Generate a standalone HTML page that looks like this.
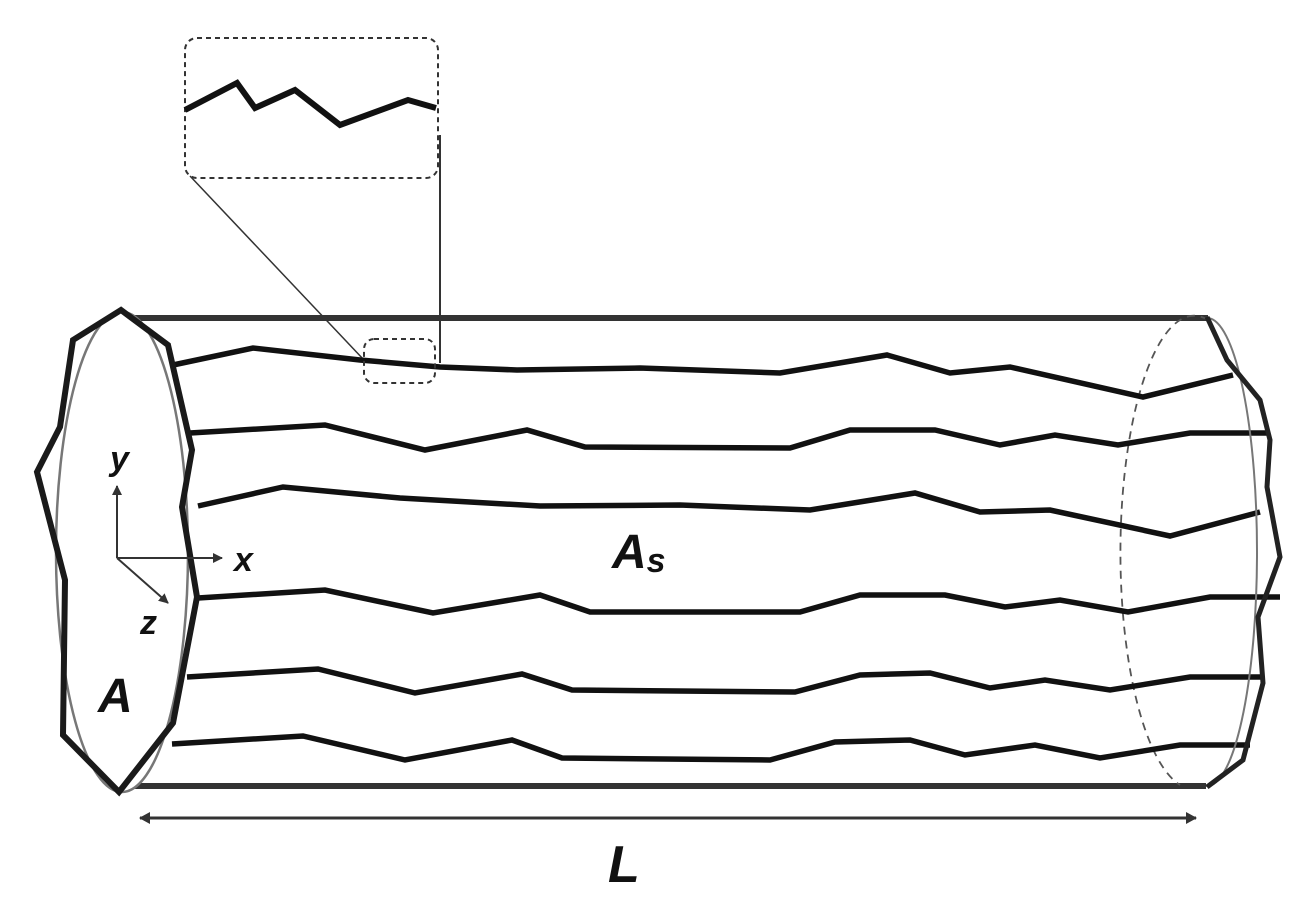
<!DOCTYPE html>
<html><head><meta charset="utf-8"><style>
html,body{margin:0;padding:0;background:#fff;}
svg{display:block;}
text{font-family:"Liberation Sans",sans-serif;font-weight:bold;font-style:italic;fill:#111;}
</style></head><body>
<svg width="1296" height="904" viewBox="0 0 1296 904" xmlns="http://www.w3.org/2000/svg">
<defs>
<marker id="ah" markerWidth="10" markerHeight="10" refX="9" refY="5" orient="auto" markerUnits="userSpaceOnUse"><path d="M0,0 L10,5 L0,10 z" fill="#333"/></marker>
<marker id="ah2" markerWidth="12" markerHeight="12" refX="10" refY="6" orient="auto-start-reverse" markerUnits="userSpaceOnUse"><path d="M0,0 L11,6 L0,12 z" fill="#333"/></marker>
</defs>
<!-- inset -->
<rect x="185" y="38" width="253" height="140" rx="12" fill="none" stroke="#333" stroke-width="2" stroke-dasharray="5,4"/>
<polyline points="185,110 237,83 255,108 295,90 340,125 408,100 436,108" fill="none" stroke="#111" stroke-width="6"/>
<line x1="190" y1="176" x2="364" y2="360" stroke="#333" stroke-width="1.5"/>
<line x1="440" y1="135" x2="440" y2="363" stroke="#333" stroke-width="2"/>
<!-- cylinder edges -->
<line x1="122" y1="318" x2="1208" y2="318" stroke="#333" stroke-width="6"/>
<line x1="120" y1="786" x2="1206" y2="786" stroke="#333" stroke-width="6"/>
<!-- right dashed ellipse -->
<path d="M1208,320 A73,235 0 0 0 1180,785" fill="none" stroke="#555" stroke-width="1.8" stroke-dasharray="8,6"/>
<!-- fibers -->
<g fill="none" stroke="#111" stroke-width="5.5" stroke-linejoin="miter">
<polyline points="173,365 253,348 360,360 440,367 517,370 640,368 780,373 887,355 950,373 1010,367 1143,397 1233,375"/>
<polyline points="190,433 325,425 425,450 527,430 585,447 790,448 850,430 935,430 1000,445 1055,435 1118,445 1190,433 1270,433"/>
<polyline points="198,506 283,487 400,498 540,506 680,505 810,510 915,493 980,512 1050,510 1170,536 1260,512"/>
<polyline points="198,598 325,590 433,613 540,595 590,612 800,612 860,595 945,595 1005,607 1060,600 1128,612 1210,597 1280,597"/>
<polyline points="187,677 318,669 415,693 522,674 572,690 795,692 860,675 930,673 990,688 1045,680 1110,690 1190,677 1262,677"/>
<polyline points="172,744 303,736 405,760 512,740 562,758 770,760 835,742 910,740 965,755 1035,745 1100,758 1180,745 1250,745"/>
</g>
<!-- right face -->
<path d="M1208,318 A50,234 0 0 1 1206,786" fill="none" stroke="#777" stroke-width="2"/>
<polyline points="1207,317 1227,360 1260,400 1270,440 1267,487 1280,557 1258,617 1263,683 1243,760 1207,787" fill="none" stroke="#222" stroke-width="5"/>
<!-- small dashed box -->
<rect x="364" y="339" width="71" height="44" rx="10" fill="none" stroke="#333" stroke-width="2" stroke-dasharray="5,4"/>
<!-- left face -->
<ellipse cx="122" cy="552" rx="66" ry="240" fill="#fff" stroke="#777" stroke-width="2.5"/>
<polygon points="121,310 73,340 60,427 37,472 65,580 63,735 119,792 173,723 197,597 182,507 192,450 168,345" fill="none" stroke="#1a1a1a" stroke-width="6" stroke-linejoin="miter"/>
<!-- axes -->
<g stroke="#333" stroke-width="2">
<line x1="117" y1="558" x2="117" y2="486" marker-end="url(#ah)"/>
<line x1="117" y1="558" x2="222" y2="558" marker-end="url(#ah)"/>
<line x1="117" y1="558" x2="168" y2="603" marker-end="url(#ah)"/>
</g>
<text x="110" y="470" font-size="34">y</text>
<text x="234" y="571" font-size="34">x</text>
<text x="140" y="634" font-size="34">z</text>
<text x="98" y="712" font-size="48">A</text>
<text x="612" y="568" font-size="48">A<tspan font-size="34" dy="4">s</tspan></text>
<!-- L arrow -->
<line x1="140" y1="818" x2="1196" y2="818" stroke="#333" stroke-width="3" marker-start="url(#ah2)" marker-end="url(#ah2)"/>
<text x="608" y="882" font-size="52">L</text>
</svg>
</body></html>
